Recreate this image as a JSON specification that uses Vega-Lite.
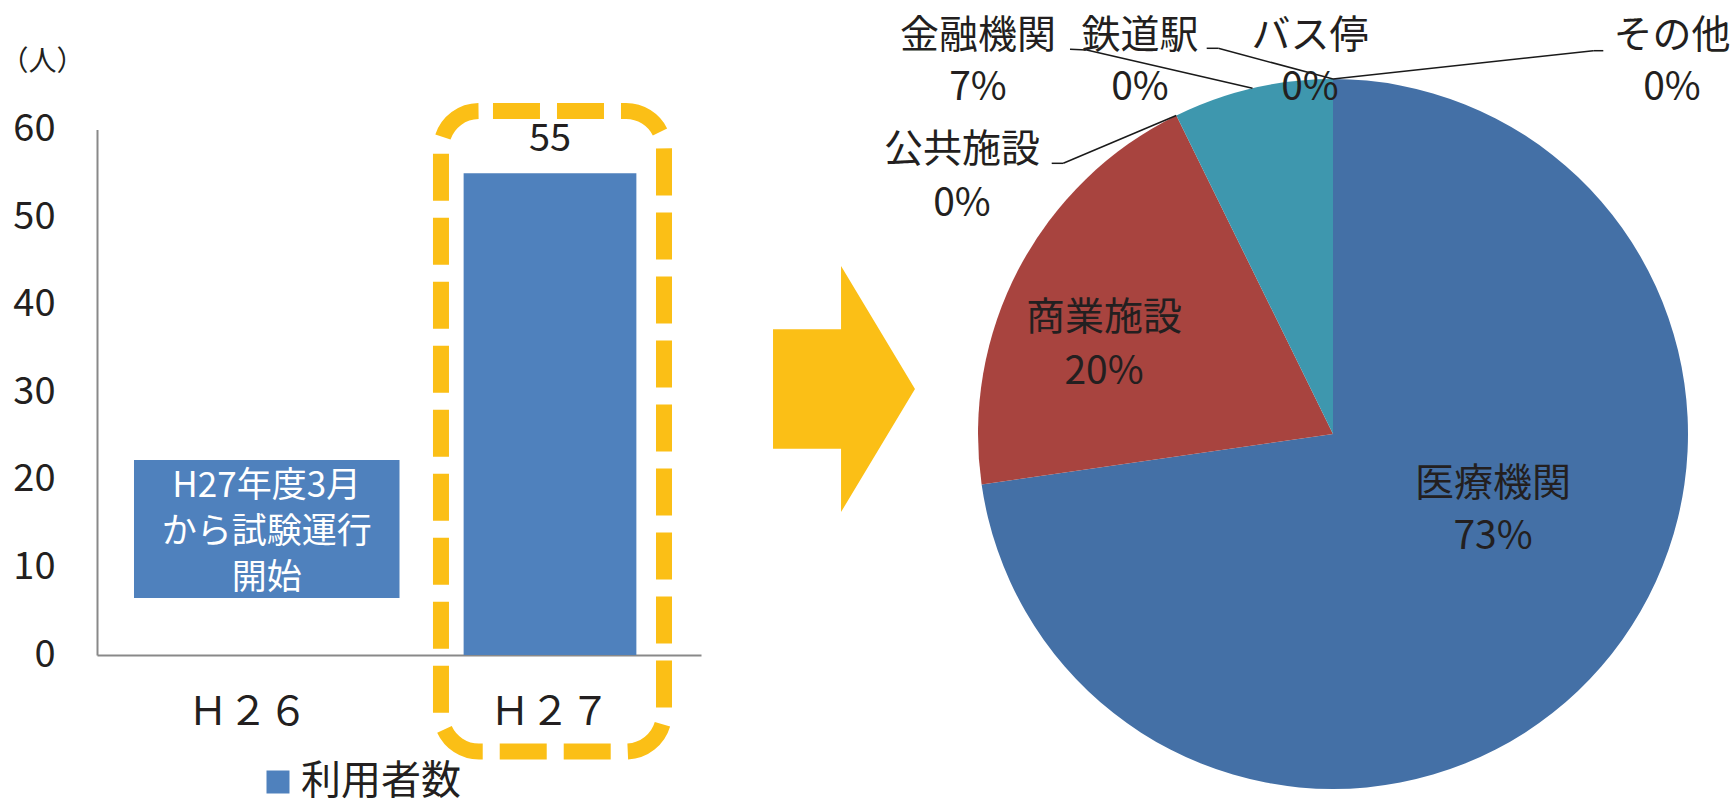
{
  "$schema": "https://vega.github.io/schema/vega-lite/v6.json",
  "width": 1735,
  "height": 805,
  "autosize": {"type": "none"},
  "padding": 0,
  "background": "white",
  "config": {"view": {"stroke": null}, "font": "Noto Sans CJK JP"},
  "datasets": {
    "bar": [
      {"年度": "Ｈ２６", "利用者数": null},
      {"年度": "Ｈ２７", "利用者数": 55}
    ],
    "pie": [
      {"分類": "医療機関", "人数": 40, "順": 1},
      {"分類": "商業施設", "人数": 11, "順": 2},
      {"分類": "公共施設", "人数": 0, "順": 3},
      {"分類": "金融機関", "人数": 4, "順": 4},
      {"分類": "鉄道駅", "人数": 0, "順": 5},
      {"分類": "バス停", "人数": 0, "順": 6},
      {"分類": "その他", "人数": 0, "順": 7}
    ]
  },
  "layer": [
    {
      "data": {"name": "bar"},
      "layer": [
        {
          "mark": {"type": "bar"},
          "encoding": {
            "x": {"field": "年度", "type": "nominal", "sort": null,
              "scale": {"domain": ["Ｈ２６", "Ｈ２７"], "range": [97, 701], "paddingInner": 0.428, "paddingOuter": 0.214},
              "axis": {"title": null, "orient": "bottom", "offset": -150, "ticks": false, "grid": false, "labelAngle": 0,
                "labelFontSize": 40, "labelPadding": 37, "labelFont": "Noto Sans CJK JP", "labelColor": "#231F20",
                "domainColor": "#898989", "domainWidth": 2}},
            "y": {"field": "利用者数", "type": "quantitative",
              "scale": {"domain": [0, 60], "range": [655, 129.5], "nice": false},
              "axis": {"title": "（人）", "titleAngle": 0, "titleX": -97, "titleY": 62, "titleAlign": "left", "titleBaseline": "middle",
                "titleFontSize": 28, "titleFontWeight": "normal", "titleFont": "Noto Sans CJK JP", "titleColor": "#231F20",
                "orient": "left", "offset": -97, "ticks": false, "grid": false, "values": [0, 10, 20, 30, 40, 50, 60],
                "labelFontSize": 38, "labelPadding": 42, "labelFont": "Noto Sans CJK JP", "labelColor": "#231F20",
                "domainColor": "#898989", "domainWidth": 2}},
            "color": {"datum": "利用者数", "type": "nominal",
              "scale": {"domain": ["利用者数"], "range": ["#4F81BD"]},
              "legend": {"orient": "none", "legendX": 258, "legendY": 762, "title": null, "symbolType": "square", "symbolSize": 529,
                "labelFontSize": 40, "labelLimit": 400, "labelFont": "Noto Sans CJK JP", "labelColor": "#231F20", "labelOffset": 3, "padding": 0, "symbolStrokeWidth": 0}}
          }
        },
        {
          "mark": {"type": "text", "dy": -22, "baseline": "alphabetic", "fontSize": 38, "font": "Noto Sans CJK JP", "color": "#231F20"},
          "encoding": {
            "x": {"field": "年度", "type": "nominal", "sort": null},
            "y": {"field": "利用者数", "type": "quantitative"},
            "text": {"field": "利用者数", "type": "quantitative"}
          }
        }
      ]
    },
    {
      "data": {"values": [{}]},
      "layer": [
        {
          "mark": {"type": "rect", "color": "#4F81BD"},
          "encoding": {
            "x": {"datum": 0.1225, "type": "quantitative", "scale": {"domain": [0, 2], "range": [97, 701], "nice": false, "zero": false}, "axis": null},
            "x2": {"datum": 1.0017},
            "y": {"datum": 22.27, "type": "quantitative", "scale": {"domain": [0, 60], "range": [655, 129.5], "nice": false}, "axis": null},
            "y2": {"datum": 6.5}
          }
        },
        {
          "mark": {"type": "text", "text": "H27年度3月\nから試験運行\n開始", "lineBreak": "\n", "lineHeight": 46, "fontSize": 35, "dy": -46,
            "font": "Noto Sans CJK JP", "color": "white", "align": "center", "baseline": "middle"},
          "encoding": {
            "x": {"datum": 0.562, "type": "quantitative", "scale": {"domain": [0, 2], "range": [97, 701], "nice": false, "zero": false}, "axis": null},
            "y": {"datum": 14.0, "type": "quantitative", "scale": {"domain": [0, 60], "range": [655, 129.5], "nice": false}, "axis": null}
          }
        },
        {
          "mark": {"type": "rect", "filled": false, "stroke": "#FBBF16", "strokeWidth": 16, "strokeDash": [47, 17], "strokeDashOffset": 50, "cornerRadius": 38, "opacity": 1},
          "encoding": {
            "x": {"datum": 1.139, "type": "quantitative", "scale": {"domain": [0, 2], "range": [97, 701], "nice": false, "zero": false}, "axis": null},
            "x2": {"datum": 1.8775},
            "y": {"datum": 62.11, "type": "quantitative", "scale": {"domain": [0, 60], "range": [655, 129.5], "nice": false}, "axis": null},
            "y2": {"datum": -11.02}
          }
        },
        {
          "mark": {"type": "point", "shape": "M-0.577,-0.485L-0.024,-0.485L-0.024,-1L0.577,0L-0.024,1L-0.024,0.485L-0.577,0.485Z",
            "size": 60516, "filled": true, "fill": "#FBBF16", "opacity": 1, "strokeWidth": 0},
          "encoding": {
            "x": {"datum": 2.4735, "type": "quantitative", "scale": {"domain": [0, 2], "range": [97, 701], "nice": false, "zero": false}, "axis": null},
            "y": {"datum": 30.37, "type": "quantitative", "scale": {"domain": [0, 60], "range": [655, 129.5], "nice": false}, "axis": null}
          }
        }
      ]
    },
    {
      "data": {"name": "pie"},
      "transform": [
        {"joinaggregate": [{"op": "sum", "field": "人数", "as": "合計"}]},
        {"calculate": "datum['分類'] + '\\n' + round(datum['人数'] / datum['合計'] * 100) + '%'", "as": "ラベル"}
      ],
      "encoding": {
        "x": {"datum": 0, "type": "quantitative", "scale": {"domain": [-1, 1], "range": [978, 1688], "nice": false, "zero": false}, "axis": null},
        "y": {"datum": 0, "type": "quantitative", "scale": {"domain": [-1, 1], "range": [789, 79], "nice": false, "zero": false}, "axis": null}
      },
      "layer": [
        {
          "mark": {"type": "arc", "outerRadius": 355},
          "encoding": {
            "theta": {"field": "人数", "type": "quantitative", "stack": true},
            "order": {"field": "順", "type": "quantitative"},
            "fill": {"field": "分類", "type": "nominal",
              "scale": {"domain": ["医療機関", "商業施設", "公共施設", "金融機関", "鉄道駅", "バス停", "その他"],
                "range": ["#4470A6", "#A8443F", "#8FAE55", "#3E97AE", "#7A629C", "#E8873A", "#C9A9A6"]},
              "legend": null}
          }
        },
        {"data": {"values": [{}]}, "mark": {"type": "rule", "color": "#1a1a1a", "strokeWidth": 1.5},
          "encoding": {"x": {"datum": -0.7924}, "y": {"datum": 0.7625}, "x2": {"datum": -0.7597}, "y2": {"datum": 0.7625}}},
        {"data": {"values": [{}]}, "mark": {"type": "rule", "color": "#1a1a1a", "strokeWidth": 1.5},
          "encoding": {"x": {"datum": -0.7597}, "y": {"datum": 0.7625}, "x2": {"datum": -0.4415}, "y2": {"datum": 0.8973}}},
        {"data": {"values": [{}]}, "mark": {"type": "rule", "color": "#1a1a1a", "strokeWidth": 1.5},
          "encoding": {"x": {"datum": -0.7408}, "y": {"datum": 1.0837}, "x2": {"datum": -0.6938}, "y2": {"datum": 1.0817}}},
        {"data": {"values": [{}]}, "mark": {"type": "rule", "color": "#1a1a1a", "strokeWidth": 1.5},
          "encoding": {"x": {"datum": -0.6938}, "y": {"datum": 1.0817}, "x2": {"datum": -0.2267}, "y2": {"datum": 0.974}}},
        {"data": {"values": [{}]}, "mark": {"type": "rule", "color": "#1a1a1a", "strokeWidth": 1.5},
          "encoding": {"x": {"datum": -0.3558}, "y": {"datum": 1.0865}, "x2": {"datum": -0.3231}, "y2": {"datum": 1.0865}}},
        {"data": {"values": [{}]}, "mark": {"type": "rule", "color": "#1a1a1a", "strokeWidth": 1.5},
          "encoding": {"x": {"datum": -0.3231}, "y": {"datum": 1.0865}, "x2": {"datum": 0}, "y2": {"datum": 1.0}}},
        {"data": {"values": [{}]}, "mark": {"type": "rule", "color": "#1a1a1a", "strokeWidth": 1.5},
          "encoding": {"x": {"datum": 0.7614}, "y": {"datum": 1.0797}, "x2": {"datum": 0.7332}, "y2": {"datum": 1.0797}}},
        {"data": {"values": [{}]}, "mark": {"type": "rule", "color": "#1a1a1a", "strokeWidth": 1.5},
          "encoding": {"x": {"datum": 0.7332}, "y": {"datum": 1.0797}, "x2": {"datum": 0}, "y2": {"datum": 1.0}}},
        {"transform": [{"filter": "datum['分類'] === '医療機関'"}],
          "mark": {"type": "text", "lineBreak": "\n", "lineHeight": 53, "dy": -26, "fontSize": 39, "font": "Noto Sans CJK JP", "color": "#231F20", "align": "center", "baseline": "middle"},
          "encoding": {"x": {"datum": 0.4507}, "y": {"datum": -0.2127}, "text": {"field": "ラベル"}}},
        {"transform": [{"filter": "datum['分類'] === '商業施設'"}],
          "mark": {"type": "text", "lineBreak": "\n", "lineHeight": 54, "dy": -27, "fontSize": 39, "font": "Noto Sans CJK JP", "color": "#231F20", "align": "center", "baseline": "middle"},
          "encoding": {"x": {"datum": -0.6451}, "y": {"datum": 0.2507}, "text": {"field": "ラベル"}}},
        {"transform": [{"filter": "datum['分類'] === '公共施設'"}],
          "mark": {"type": "text", "lineBreak": "\n", "lineHeight": 54, "dy": -27, "fontSize": 39, "font": "Noto Sans CJK JP", "color": "#231F20", "align": "center", "baseline": "middle"},
          "encoding": {"x": {"datum": -1.0451}, "y": {"datum": 0.7239}, "text": {"field": "ラベル"}}},
        {"transform": [{"filter": "datum['分類'] === '金融機関'"}],
          "mark": {"type": "text", "lineBreak": "\n", "lineHeight": 52, "dy": -26, "fontSize": 39, "font": "Noto Sans CJK JP", "color": "#231F20", "align": "center", "baseline": "middle"},
          "encoding": {"x": {"datum": -1.0}, "y": {"datum": 1.0479}, "text": {"field": "ラベル"}}},
        {"transform": [{"filter": "datum['分類'] === '鉄道駅'"}],
          "mark": {"type": "text", "lineBreak": "\n", "lineHeight": 52, "dy": -26, "fontSize": 39, "font": "Noto Sans CJK JP", "color": "#231F20", "align": "center", "baseline": "middle"},
          "encoding": {"x": {"datum": -0.5437}, "y": {"datum": 1.0479}, "text": {"field": "ラベル"}}},
        {"transform": [{"filter": "datum['分類'] === 'バス停'"}],
          "mark": {"type": "text", "lineBreak": "\n", "lineHeight": 52, "dy": -26, "fontSize": 39, "font": "Noto Sans CJK JP", "color": "#231F20", "align": "center", "baseline": "middle"},
          "encoding": {"x": {"datum": -0.0648}, "y": {"datum": 1.0479}, "text": {"field": "ラベル"}}},
        {"transform": [{"filter": "datum['分類'] === 'その他'"}],
          "mark": {"type": "text", "lineBreak": "\n", "lineHeight": 52, "dy": -26, "fontSize": 39, "font": "Noto Sans CJK JP", "color": "#231F20", "align": "center", "baseline": "middle"},
          "encoding": {"x": {"datum": 0.9549}, "y": {"datum": 1.0479}, "text": {"field": "ラベル"}}}
      ]
    }
  ],
  "resolve": {
    "scale": {"x": "independent", "y": "independent", "color": "independent", "fill": "independent"},
    "axis": {"x": "independent", "y": "independent"}
  }
}
